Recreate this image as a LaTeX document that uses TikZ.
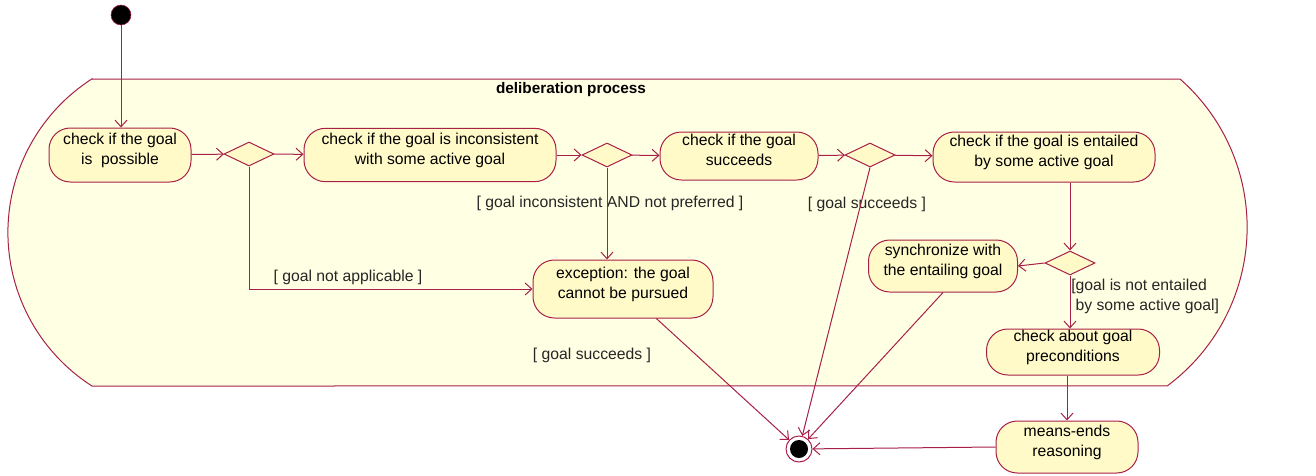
\documentclass[tikz,border=0pt]{standalone}
\usepackage{fontspec}
\setmainfont{Liberation Sans}
\usetikzlibrary{arrows.meta,shapes.geometric}
\definecolor{lc}{RGB}{168,32,72}
\definecolor{nodeC}{RGB}{255,250,200}
\definecolor{boxC}{RGB}{255,255,228}
\begin{document}
\begin{tikzpicture}[x=0.75pt,y=-0.75pt,
  every node/.style={font=\fontsize{11.8}{15}\selectfont},
  act/.style={draw=lc,line width=0.75pt,fill=nodeC,rounded corners=16pt,align=center,inner sep=0pt,text depth=9.5pt},
  dec/.style={diamond,draw=lc,line width=0.75pt,fill=nodeC,minimum width=37.5pt,minimum height=18pt,inner sep=0pt,aspect=2},
  flow/.style={draw=lc,line width=0.75pt,-{Straight Barb[length=5pt,width=9pt]}},
  guard/.style={inner sep=0pt,text=black!85}]
\useasboundingbox (0,0) rectangle (1316,475);
% container
\draw[lc,fill=boxC,line width=0.75pt] (92,79) -- (1180,79)
  arc[start angle=-48.7,end angle=53.5,radius=197.4] -- (92,386)
  arc[start angle=122.6,end angle=237.4,radius=182.3] -- cycle;
\node[font=\bfseries\fontsize{11.5}{13}\selectfont] (title) at (571,90) {deliberation process};
% nodes
\node[circle,fill=black,draw=lc,minimum size=15pt,inner sep=0pt] (init) at (121,15) {};
\node[act,minimum width=106.5pt,minimum height=40.5pt] (a) at (120,155) {check if the goal\\is\ \ possible};
\node[dec] (d1) at (249,154) {};
\node[act,minimum width=189pt,minimum height=40pt] (b) at (430,155) {check if the goal is inconsistent\\with some active goal};
\node[dec] (d2) at (607,155) {};
\node[act,minimum width=118.5pt,minimum height=36pt] (c) at (739,156) {check if the goal\\succeeds};
\node[dec] (d3) at (870,155) {};
\node[act,minimum width=166.5pt,minimum height=37.5pt] (e) at (1044,157) {check if the goal is entailed\\by some active goal};
\node[dec] (d4) at (1070,263) {};
\node[act,minimum width=111.75pt,minimum height=39pt] (f) at (943,266) {synchronize with\\the entailing goal};
\node[act,minimum width=129.75pt,minimum height=34.5pt] (g) at (1073,352) {check about goal\\preconditions};
\node[act,minimum width=106.5pt,minimum height=39pt] (h) at (1067,447) {means-ends\\reasoning};
\node[act,minimum width=135pt,minimum height=43.5pt] (xn) at (623,289) {exception: the goal\\cannot be pursued};
\node[circle,draw=lc,fill=white,line width=0.75pt,minimum size=19.5pt,inner sep=0pt] (fin) at (799,449) {};
\node[circle,fill=black,minimum size=13.5pt,inner sep=0pt] (finin) at (fin) {};
% guards
\node[guard] (g1) at (348,277) {[ goal not applicable ]};
\node[guard] (g2) at (610,203) {[ goal inconsistent AND not preferred ]};
\node[guard] (g3) at (867,204) {[ goal succeeds ]};
\node[guard] (g4) at (592,355) {[ goal succeeds ]};
\node[guard,align=left,anchor=west] (g5) at (1071,296) {[goal is not entailed\\\ by some active goal]};
% flows
\draw[flow] (init) -- (a.north -| init);
\draw[flow] (a) -- (d1);
\draw[flow] (d1) -- (b);
\draw[flow] (b) -- (d2);
\draw[flow] (d2) -- (c);
\draw[flow] (c) -- (d3);
\draw[flow] (d3) -- (e);
\draw[flow] (d1.south) |- (xn.west);
\draw[flow] (d2.south) -- (d2.south |- xn.north);
\draw[flow] (d3.south) -- (fin);
\draw[flow] (d4 |- e.south) -- (d4.north);
\draw[flow] (d4.west) -- (f.east);
\draw[flow] (d4.south) -- (d4.south |- g.north);
\draw[flow] (h.north |- g.south) -- (h.north);
\draw[flow] (h.west) -- (fin);
\draw[flow] ([xshift=25pt]xn.south) -- (fin);
\draw[flow] (f.south) -- (fin);
\end{tikzpicture}
\end{document}
